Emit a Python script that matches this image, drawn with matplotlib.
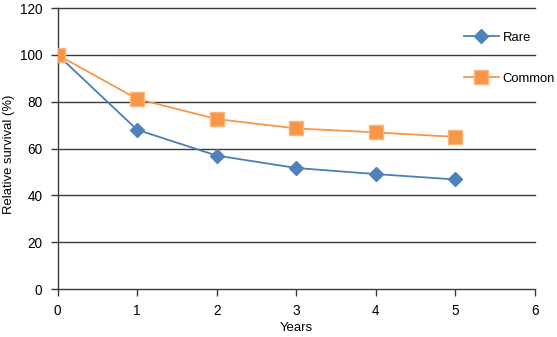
import matplotlib
matplotlib.use("Agg")
import matplotlib.pyplot as plt

plt.rcParams['font.family'] = ['Liberation Sans', 'DejaVu Sans']

years = [0, 1, 2, 3, 4, 5]
rare = [100, 68, 57, 51.7, 49.1, 46.8]
common = [100, 81.2, 72.6, 68.6, 66.9, 65]
xticks = [0, 1, 2, 3, 4, 5, 6]
yticks = [0, 20, 40, 60, 80, 100, 120]

fig = plt.figure(figsize=(5.57, 3.37), dpi=100)
ax = fig.add_axes([0.1035, 0.1424, 0.8565, 0.8336])

for y in yticks[1:]:
    ax.axhline(y, color='#3a3a3a', lw=1.0, zorder=1, clip_on=False)

ax.plot(years, rare, color='#4A7EBB', lw=1.3, marker='D', ms=7,
        markerfacecolor='#4F81BD', markeredgecolor='#4F81BD', label='Rare', zorder=3)
ax.plot(years, common, color='#F79646', lw=1.3, marker='s', ms=10,
        markerfacecolor='#F79646', markeredgecolor='#FAB57D', label='Common', zorder=3)

ax.set_xlim(0, 6)
ax.set_ylim(0, 120)
ax.set_xticks(xticks)
ax.set_yticks(yticks)
ax.tick_params(axis='both', direction='out', length=5, width=1, color='#3a3a3a',
               labelsize=9.8, pad=6)
for s in ['top', 'right']:
    ax.spines[s].set_visible(False)
for s in ['left', 'bottom']:
    ax.spines[s].set_color('#3a3a3a')
    ax.spines[s].set_linewidth(1.0)

ax.set_xlabel('Years', fontsize=9.5, labelpad=3)
ax.set_ylabel('Relative survival (%)', fontsize=9.4, va='center')
ax.yaxis.set_label_coords(-0.102, 0.48)

leg = ax.legend(loc='upper left', bbox_to_anchor=(0.84, 0.935), frameon=False,
                fontsize=9.4, labelspacing=2.2, handlelength=2.7, handletextpad=0.3,
                borderaxespad=0)

fig.savefig('out.png', dpi=100, facecolor='white')
